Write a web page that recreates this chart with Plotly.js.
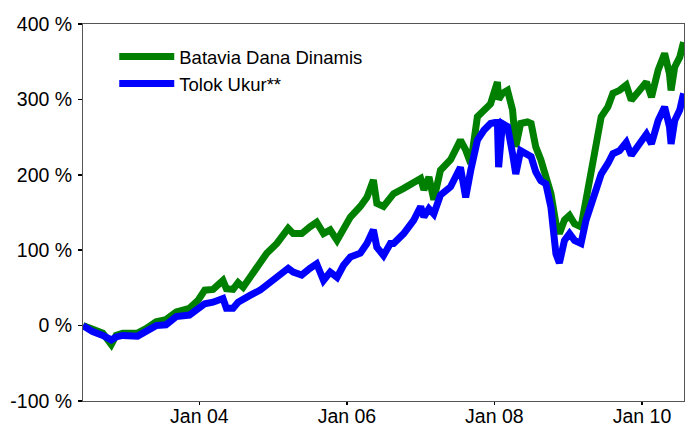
<!DOCTYPE html>
<html>
<head>
<meta charset="utf-8">
<script src="https://cdn.plot.ly/plotly-3.0.1.min.js"></script>
<style>
  html, body { margin: 0; padding: 0; background: #fff; }
  #chart { width: 686px; height: 426px; }
</style>
</head>
<body>
<div id="chart"></div>
<script>
const seriesNames = ['Batavia Dana Dinamis', 'Tolok Ukur**'];

const dates = [
  '2002-06-04','2002-07-22','2002-09-10','2002-10-22','2002-11-15','2002-12-18',
  '2003-03-01','2003-04-12','2003-06-01','2003-07-20','2003-09-09','2003-11-13','2003-12-27',
  '2004-01-28','2004-03-09','2004-04-27','2004-05-14','2004-06-16','2004-07-11','2004-08-05',
  '2004-09-08','2004-10-28','2004-11-30',
  '2005-01-19','2005-03-16','2005-04-10','2005-05-22','2005-07-02','2005-08-04','2005-09-07',
  '2005-10-10','2005-11-13','2005-12-15',
  '2006-01-18','2006-03-08','2006-04-10','2006-05-12','2006-05-29','2006-07-01','2006-08-04',
  '2006-08-20','2006-10-09','2006-11-28',
  '2007-01-01','2007-01-17','2007-02-11','2007-03-07','2007-04-09','2007-05-29','2007-07-17',
  '2007-08-12','2007-09-06','2007-10-09','2007-11-10','2007-12-13',
  '2008-01-16','2008-01-22','2008-02-10','2008-03-06','2008-03-31','2008-04-16','2008-05-10',
  '2008-06-13','2008-07-01','2008-07-24','2008-08-18','2008-09-12','2008-10-07','2008-11-01',
  '2008-11-18','2008-12-13',
  '2009-01-07','2009-02-01','2009-03-05','2009-03-30','2009-04-24','2009-05-19','2009-06-13',
  '2009-07-16','2009-08-10','2009-09-12','2009-10-15','2009-11-09','2009-12-12',
  '2010-01-23','2010-02-17','2010-03-22','2010-04-23','2010-05-17','2010-05-25','2010-06-12',
  '2010-07-07','2010-07-26'
];

const fundValues = [
  0, -5, -10, -25, -13, -10,
  -10, -4, 5, 8, 18, 23, 34,
  47, 48, 60, 49, 48, 57, 51,
  65, 83, 96,
  109, 129, 122, 122, 131, 137, 122,
  127, 113, 127,
  144, 158, 170, 193, 162, 158, 170,
  175, 182, 191,
  195, 180, 197, 167, 206, 220, 246,
  233, 215, 277, 286, 294,
  323, 300, 308, 312, 286, 237, 268,
  270, 268, 237, 220, 197, 175, 135,
  122, 140,
  146, 135, 131, 167, 201, 246, 277,
  290, 308, 312, 319, 299, 309,
  323, 303, 339, 361, 334, 312, 343,
  356, 376
];

const benchValues = [
  0, -8, -13, -19, -15, -13,
  -14, -8, 0, 1, 12, 14, 23,
  29, 31, 36, 23, 23, 31, 34,
  40, 47, 54,
  65, 76, 71, 67, 76, 82, 60,
  71, 64, 80,
  91, 96, 109, 127, 104, 93, 109,
  109, 122, 140,
  158, 144, 155, 148, 173, 184, 210,
  170, 206, 246, 259, 268,
  270, 210, 268, 264, 228, 201, 232,
  228, 224, 204, 192, 188, 157, 95,
  83, 113,
  122, 113, 109, 140, 162, 180, 201,
  215, 228, 232, 243, 226, 237,
  254, 241, 272, 290, 264, 241, 272,
  286, 308
];

const xTickVals = ['2004-01-01', '2006-01-01', '2008-01-01', '2010-01-01'];
const xTickText = ['Jan 04', 'Jan 06', 'Jan 08', 'Jan 10'];
const yTickVals = [-100, 0, 100, 200, 300, 400];
const yTickText = ['-100 %', '0 %', '100 %', '200 %', '300 %', '400 %'];
const xRange = ['2002-06-04', '2010-07-28'];
const yRange = [-100, 400];

const FONT = '"Liberation Sans", Arial, Helvetica, sans-serif';

const traces = [
  {
    x: dates, y: fundValues, name: seriesNames[0], type: 'scatter', mode: 'lines',
    line: { color: '#008000', width: 7 }
  },
  {
    x: dates, y: benchValues, name: seriesNames[1], type: 'scatter', mode: 'lines',
    line: { color: '#0000ff', width: 7 }
  }
];

const layout = {
  width: 686, height: 426,
  margin: { l: 83, r: 2, t: 24, b: 25, pad: 0 },
  paper_bgcolor: '#ffffff',
  plot_bgcolor: '#ffffff',
  font: { family: FONT, color: '#000000', size: 19.5 },
  showlegend: true,
  legend: {
    x: 0.052, y: 0.963, xanchor: 'left', yanchor: 'top',
    bgcolor: 'rgba(0,0,0,0)', borderwidth: 0,
    font: { family: FONT, size: 18.5, color: '#000000' },
    itemwidth: 55, tracegroupgap: 0
  },
  xaxis: {
    type: 'date', range: xRange,
    tickmode: 'array', tickvals: xTickVals, ticktext: xTickText,
    ticks: 'outside', ticklen: 3, tickwidth: 1.5, tickcolor: '#000',
    showline: true, linecolor: '#555', linewidth: 1, mirror: true,
    showgrid: false, zeroline: false,
    ticklabelstandoff: -5,
    tickfont: { family: FONT, size: 19.5, color: '#000' }
  },
  yaxis: {
    range: yRange,
    tickmode: 'array', tickvals: yTickVals, ticktext: yTickText,
    ticks: 'outside', ticklen: 4, tickwidth: 1.5, tickcolor: '#000',
    showline: true, linecolor: '#555', linewidth: 1, mirror: true,
    showgrid: false, zeroline: false,
    ticklabelstandoff: 2,
    tickfont: { family: FONT, size: 19.5, color: '#000' }
  },
  xaxis2: {
    type: 'date', range: xRange, overlaying: 'x', side: 'bottom',
    tickmode: 'array', tickvals: xTickVals, ticktext: xTickText,
    ticks: 'inside', ticklen: 2, tickwidth: 1.5, tickcolor: '#000',
    showticklabels: false, showline: false, showgrid: false, zeroline: false
  },
  yaxis2: {
    range: yRange, overlaying: 'y', side: 'left',
    tickmode: 'array', tickvals: yTickVals,
    ticks: 'inside', ticklen: 3, tickwidth: 1.5, tickcolor: '#000',
    showticklabels: false, showline: false, showgrid: false, zeroline: false
  }
};

Plotly.newPlot('chart', traces, layout, { displayModeBar: false, staticPlot: true });
</script>
</body>
</html>
